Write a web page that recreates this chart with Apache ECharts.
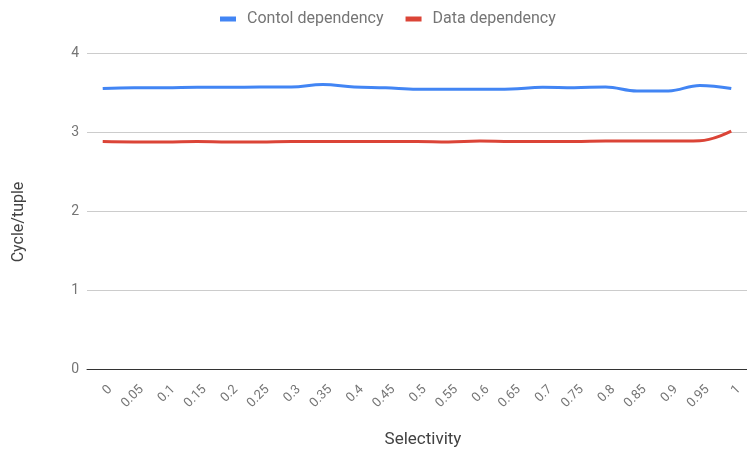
<!DOCTYPE html>
<html>
<head>
<meta charset="utf-8">
<script src="https://cdn.jsdelivr.net/npm/echarts@6/dist/echarts.min.js"></script>
<style>
  html, body { margin: 0; padding: 0; background: #fff; }
  #chart { width: 747px; height: 454px; }
</style>
</head>
<body>
<div id="chart"></div>
<script>
// Selectivity steps on the x axis
const selectivity = ['0', '0.05', '0.1', '0.15', '0.2', '0.25', '0.3', '0.35', '0.4', '0.45',
  '0.5', '0.55', '0.6', '0.65', '0.7', '0.75', '0.8', '0.85', '0.9', '0.95', '1'];

// Cycles per tuple for each variant
const controlDependency = [3.55, 3.56, 3.56, 3.565, 3.565, 3.57, 3.57, 3.60, 3.57, 3.56,
  3.54, 3.54, 3.54, 3.545, 3.565, 3.56, 3.57, 3.52, 3.52, 3.59, 3.55];
const dataDependency = [2.88, 2.875, 2.875, 2.88, 2.875, 2.875, 2.88, 2.88, 2.88, 2.88,
  2.88, 2.875, 2.885, 2.88, 2.88, 2.88, 2.885, 2.885, 2.885, 2.89, 3.01];

const yTicks = [0, 1, 2, 3, 4];

const chart = echarts.init(document.getElementById('chart'));
const textColor = '#757575';
chart.setOption({
  animation: false,
  textStyle: { fontFamily: 'Roboto' },
  legend: {
    top: 6,
    left: 215,
    itemWidth: 16,
    itemHeight: 5,
    itemGap: 22,
    icon: 'rect',
    textStyle: { color: textColor, fontSize: 16, fontFamily: 'Roboto', padding: [0, 0, 0, 6] },
    data: ['Contol dependency', 'Data dependency']
  },
  grid: { left: 87, top: 53, width: 668, height: 316, containLabel: false },
  xAxis: {
    type: 'category',
    data: selectivity,
    boundaryGap: true,
    name: 'Selectivity',
    nameLocation: 'middle',
    nameGap: 62,
    nameTextStyle: { color: '#424242', fontSize: 17, fontFamily: 'Roboto', padding: [0, 0, 0, 12] },
    axisLine: { lineStyle: { color: '#333', width: 1 } },
    axisTick: { show: false },
    axisLabel: {
      rotate: 45, color: textColor, fontSize: 13, margin: 11, interval: 0,
      verticalAlign: 'top', padding: [4, 0, 0, 0]
    }
  },
  yAxis: {
    type: 'value',
    min: yTicks[0],
    max: yTicks[yTicks.length - 1],
    interval: 1,
    name: 'Cycle/tuple',
    nameLocation: 'middle',
    nameGap: 60,
    nameRotate: 90,
    nameTextStyle: { color: '#424242', fontSize: 16, fontFamily: 'Roboto', padding: [0, 22, 0, 0] },
    axisLine: { show: false },
    axisTick: { show: false },
    axisLabel: { color: textColor, fontSize: 14, margin: 8 },
    splitLine: { lineStyle: { color: '#cccccc', width: 1 } }
  },
  series: [
    {
      name: 'Contol dependency',
      type: 'line',
      data: controlDependency,
      smooth: 0.4,
      showSymbol: false,
      symbol: 'none',
      itemStyle: { color: '#4285F4' },
      lineStyle: { color: '#4285F4', width: 3 }
    },
    {
      name: 'Data dependency',
      type: 'line',
      data: dataDependency,
      smooth: 0.4,
      showSymbol: false,
      symbol: 'none',
      itemStyle: { color: '#DB4437' },
      lineStyle: { color: '#DB4437', width: 3 }
    }
  ]
});
</script>
</body>
</html>
